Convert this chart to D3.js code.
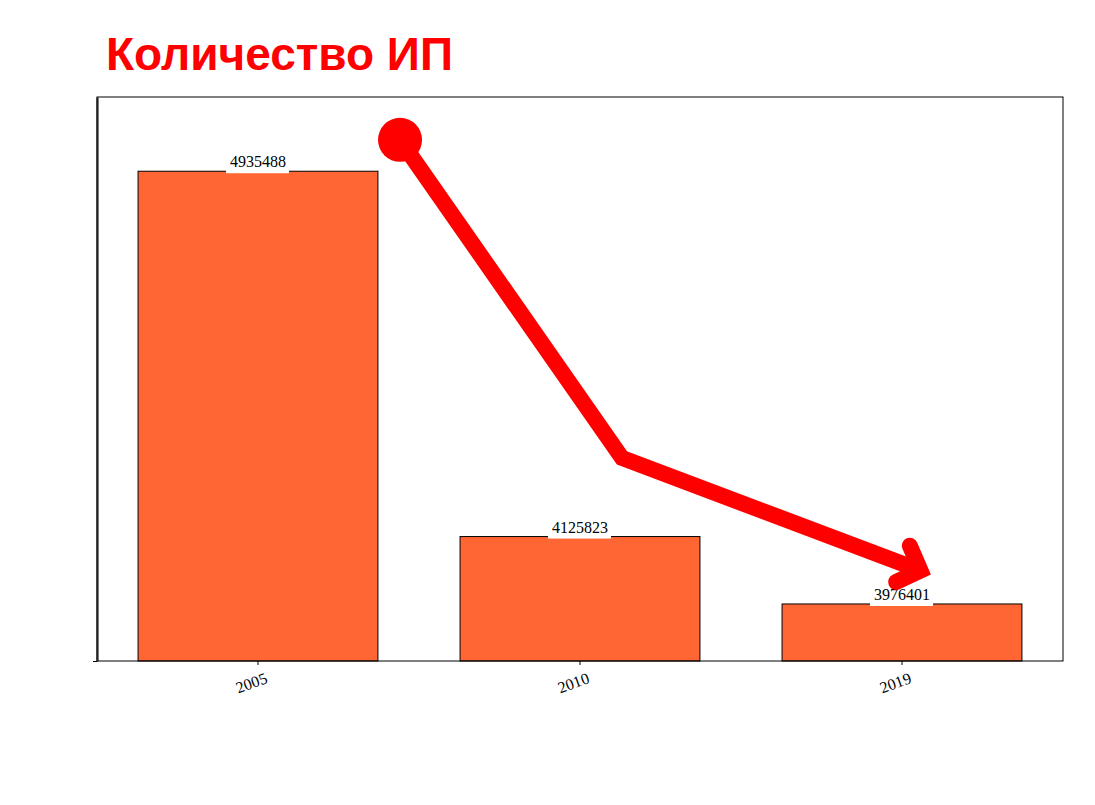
<!DOCTYPE html>
<html>
<head>
<meta charset="utf-8">
<script src="https://cdn.jsdelivr.net/npm/d3@7"></script>
<style>
  body { margin: 0; background: #fff; }
</style>
</head>
<body>
<div id="chart"></div>
<script>
const years = ["2005", "2010", "2019"];
const counts = [4935488, 4125823, 3976401];
const yDomain = [3850000, 5100000];
const titleText = "Количество ИП";

// decoration: arrow drawn in plot-relative units [0..1]
const arrowPoints = [[0.3137, 0.076], [0.5435, 0.640], [0.8525, 0.8395]];

const width = 1095;
const height = 805;
const margin = { top: 97, right: 32, bottom: 144, left: 97 };

const svg = d3.select("#chart")
  .append("svg")
  .attr("width", width)
  .attr("height", height);

const x = d3.scaleBand()
  .domain(years)
  .range([margin.left, width - margin.right])
  .paddingInner(0.255)
  .paddingOuter(0.1275);

const y = d3.scaleLinear()
  .domain(yDomain)
  .range([height - margin.bottom, margin.top]);

const rx = d3.scaleLinear().domain([0, 1]).range([margin.left, width - margin.right]);
const ry = d3.scaleLinear().domain([0, 1]).range([margin.top, height - margin.bottom]);

// title
svg.append("text")
  .attr("x", 106)
  .attr("y", 70)
  .attr("font-family", "'Liberation Sans', Arial, sans-serif")
  .attr("font-weight", "bold")
  .attr("font-size", 46)
  .attr("fill", "#ff0000")
  .text(titleText);

const data = years.map((yr, i) => ({ year: yr, value: counts[i] }));

// bars
svg.selectAll(".bar")
  .data(data)
  .enter()
  .append("rect")
  .attr("class", "bar")
  .attr("x", d => x(d.year))
  .attr("y", d => y(d.value))
  .attr("width", x.bandwidth())
  .attr("height", d => y(yDomain[0]) - y(d.value))
  .attr("fill", "#ff6633")
  .attr("stroke", "#000")
  .attr("stroke-width", 1);

// value labels with white box
const labels = svg.selectAll(".lbl")
  .data(data)
  .enter()
  .append("g")
  .attr("class", "lbl")
  .attr("transform", d => `translate(${x(d.year) + x.bandwidth() / 2}, ${y(d.value) - 4})`);

labels.append("rect")
  .attr("x", -32)
  .attr("y", -14)
  .attr("width", 63)
  .attr("height", 20)
  .attr("fill", "#fff");

labels.append("text")
  .attr("text-anchor", "middle")
  .attr("font-family", "'Liberation Serif', 'Times New Roman', serif")
  .attr("font-size", 16)
  .attr("fill", "#000")
  .text(d => d.value);

// frame
svg.append("rect")
  .attr("x", margin.left)
  .attr("y", margin.top)
  .attr("width", width - margin.left - margin.right)
  .attr("height", height - margin.top - margin.bottom)
  .attr("fill", "none")
  .attr("stroke", "#000")
  .attr("stroke-width", 1);

// x axis
const xAxis = svg.append("g")
  .attr("transform", `translate(0, ${height - margin.bottom})`)
  .call(d3.axisBottom(x).tickSizeOuter(0).tickSize(4));
xAxis.select(".domain").remove();
xAxis.selectAll("text")
  .attr("font-family", "'Liberation Serif', 'Times New Roman', serif")
  .attr("font-size", 16)
  .attr("fill", "#000")
  .attr("text-anchor", "end")
  .attr("dx", "0.15em")
  .attr("dy", "1.05em")
  .attr("transform", "rotate(-20)");

// y axis: one bare tick, thick spine
const yAxis = svg.append("g")
  .attr("transform", `translate(${margin.left}, 0)`)
  .call(d3.axisLeft(y).tickValues([yDomain[0]]).tickFormat("").tickSize(4).tickSizeOuter(0));
yAxis.select(".domain").attr("stroke-width", 2.2).attr("stroke", "#222");

// arrow annotation
const arrowLine = d3.line().x(d => rx(d[0])).y(d => ry(d[1]));
svg.append("path")
  .attr("d", arrowLine(arrowPoints))
  .attr("fill", "none")
  .attr("stroke", "#ff0000")
  .attr("stroke-width", 16)
  .attr("stroke-linejoin", "miter");

svg.append("circle")
  .attr("cx", rx(arrowPoints[0][0]))
  .attr("cy", ry(arrowPoints[0][1]))
  .attr("r", 22)
  .attr("fill", "#ff0000");

// chevron head
const tip = arrowPoints[arrowPoints.length - 1];
const prev = arrowPoints[arrowPoints.length - 2];
const tx = rx(tip[0]), ty = ry(tip[1]);
const ang = Math.atan2(ty - ry(prev[1]), tx - rx(prev[0]));
const armLen = 27;
const spread = 46 * Math.PI / 180;
const headPts = [
  [tx - armLen * Math.cos(ang - spread), ty - armLen * Math.sin(ang - spread)],
  [tx, ty],
  [tx - armLen * Math.cos(ang + spread), ty - armLen * Math.sin(ang + spread)]
];
svg.append("path")
  .attr("d", d3.line()(headPts))
  .attr("fill", "none")
  .attr("stroke", "#ff0000")
  .attr("stroke-width", 16)
  .attr("stroke-linecap", "round")
  .attr("stroke-linejoin", "miter");
</script>
</body>
</html>
